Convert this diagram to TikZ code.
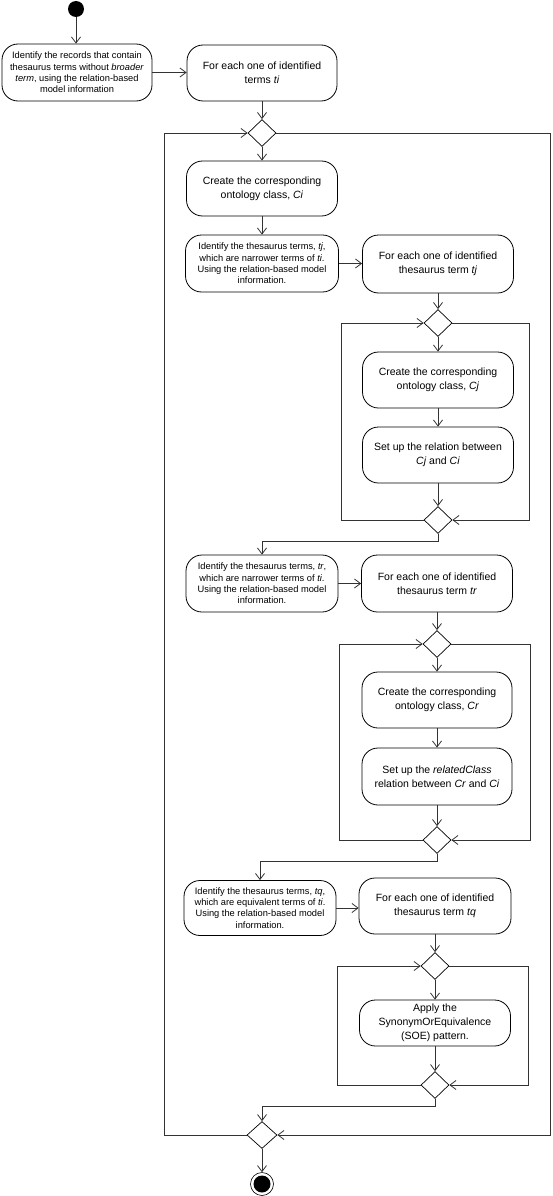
\documentclass[tikz,border=0pt]{standalone}
\usepackage{fontspec}
\setmainfont{Liberation Sans}
\usetikzlibrary{arrows.meta,shapes.geometric}
\begin{document}
\begin{tikzpicture}[x=1pt,y=-1pt,
  act/.style={draw=black, line width=0.8pt, rounded corners=16pt, align=center, inner sep=0pt},
  sm/.style={act, font=\fontsize{9.3}{11.3}\selectfont},
  lg/.style={act, font=\fontsize{10.5}{14}\selectfont},
  dec/.style={draw=black, diamond, minimum width=28pt, minimum height=27pt, inner sep=0pt, line width=0.7pt},
  flow/.style={draw=black!80, line width=0.8pt, -{Straight Barb[length=6pt,width=9pt]}},
  ln/.style={draw=black!80, line width=0.8pt},
]
\useasboundingbox (0,0) rectangle (552,1196);

% start
\node[circle, fill=black, minimum size=16pt, inner sep=0pt] (st) at (76,9) {};

% top row
\node[sm, minimum width=150pt, minimum height=57pt] (b1) at (77,72.5)
  {Identify the records that contain\\thesaurus terms without \textit{broader}\\\textit{term}, using the relation-based\\model information};
\node[lg, minimum width=150pt, minimum height=56pt] (b2) at (262,73)
  {For each one of identified\\terms \textit{ti}};

\node[dec] (d1) at (262,133) {};
\node[lg, minimum width=151pt, minimum height=55pt] (b3) at (262,188.5)
  {Create the corresponding\\ontology class, \textit{Ci}};
\node[sm, minimum width=153pt, minimum height=57pt] (b4) at (262,263.5)
  {Identify the thesaurus terms, \textit{tj},\\which are narrower terms of \textit{ti}.\\Using the relation-based model\\information.};

% tj block
\node[lg, minimum width=151pt, minimum height=58pt] (b5) at (438,264)
  {For each one of identified\\thesaurus term \textit{tj}};
\node[dec] (d2) at (438,323) {};
\node[lg, minimum width=151pt, minimum height=56pt] (b6) at (438,380)
  {Create the corresponding\\ontology class, \textit{Cj}};
\node[lg, minimum width=151pt, minimum height=56pt] (b7) at (438,455)
  {Set up the relation between\\\textit{Cj} and \textit{Ci}};
\node[dec] (d2b) at (438,520) {};

% tr block
\node[sm, minimum width=152pt, minimum height=57pt] (b8) at (262,583.5)
  {Identify the thesaurus terms, \textit{tr},\\which are narrower terms of \textit{ti}.\\Using the relation-based model\\information.};
\node[lg, minimum width=151pt, minimum height=57pt] (b9) at (437,583.5)
  {For each one of identified\\thesaurus term \textit{tr}};
\node[dec] (d3) at (437,644) {};
\node[lg, minimum width=150pt, minimum height=56pt] (b10) at (437,700)
  {Create the corresponding\\ontology class, \textit{Cr}};
\node[lg, minimum width=150pt, minimum height=57pt] (b11) at (437,776.5)
  {Set up the \textit{relatedClass}\\relation between \textit{Cr} and \textit{Ci}};
\node[dec] (d3b) at (437,840) {};

% tq block
\node[sm, minimum width=152pt, minimum height=55pt] (b12) at (260,908)
  {Identify the thesaurus terms, \textit{tq},\\which are equivalent terms of \textit{ti}.\\Using the relation-based model\\information.};
\node[lg, minimum width=152pt, minimum height=56pt] (b13) at (435,906)
  {For each one of identified\\thesaurus term \textit{tq}};
\node[dec] (d4) at (435,966) {};
\node[lg, minimum width=151pt, minimum height=46pt] (b14) at (435,1023)
  {Apply the\\SynonymOrEquivalence\\(SOE) pattern.};
\node[dec] (d4b) at (435,1085) {};

% end
\node[dec, minimum width=30pt] (d5) at (262,1135) {};
\node[circle, draw=black, line width=0.6pt, minimum size=23pt, inner sep=0pt] (en) at (262,1184) {};
\fill[black] (en.center) circle (8.5pt);

% frame corners and joints
\coordinate (ftl) at (164,133);
\coordinate (fbr) at (550,1135);
\coordinate (f2tl) at (341,323);
\coordinate (f2br) at (529,520);
\coordinate (f3tl) at (339,644);
\coordinate (f3br) at (530,840);
\coordinate (f4tl) at (337,966);
\coordinate (f4br) at (528,1085);
\coordinate (j1) at (438,541);
\coordinate (j2) at (437,861);
\coordinate (j3) at (435,1106);

% connectors
\draw[flow] (st) -- (b1.north -| st);
\draw[flow] (b1.east) -- (b1.east -| b2.west);
\draw[flow] (b2) -- (d1.north);
\draw[flow] (d1.south) -- (b3.north);
\draw[flow] (b3) -- (b4.north);
\draw[flow] (b4.east) -- (b4.east -| b5.west);
\draw[flow] (b5) -- (d2.north);
\draw[flow] (d2.south) -- (b6.north);
\draw[flow] (b6) -- (b7.north);
\draw[flow] (b7) -- (d2b.north);
\draw[flow] (d2b.south) -- (j1) -| (b8.north);
\draw[flow] (b8.east) -- (b8.east -| b9.west);
\draw[flow] (b9) -- (d3.north);
\draw[flow] (d3.south) -- (b10.north);
\draw[flow] (b10) -- (b11.north);
\draw[flow] (b11) -- (d3b.north);
\draw[flow] (d3b.south) -- (j2) -| (b12.north);
\draw[flow] (b12.east) -- (b12.east -| b13.west);
\draw[flow] (b13) -- (d4.north);
\draw[flow] (d4.south) -- (b14.north);
\draw[flow] (b14) -- (d4b.north);
\draw[flow] (d4b.south) -- (j3) -| (d5.north);
\draw[flow] (d5.south) -- (en.north);

% loop frames
\draw[flow] (d2b.west) -| (f2tl) -- (d2.west);
\draw[flow] (d2.east) -| (f2br) -- (d2b.east);
\draw[flow] (d3b.west) -| (f3tl) -- (d3.west);
\draw[flow] (d3.east) -| (f3br) -- (d3b.east);
\draw[flow] (d4b.west) -| (f4tl) -- (d4.west);
\draw[flow] (d4.east) -| (f4br) -- (d4b.east);
\draw[flow] (d5.west) -| (ftl) -- (d1.west);
\draw[flow] (d1.east) -| (fbr) -- (d5.east);
\end{tikzpicture}
\end{document}
